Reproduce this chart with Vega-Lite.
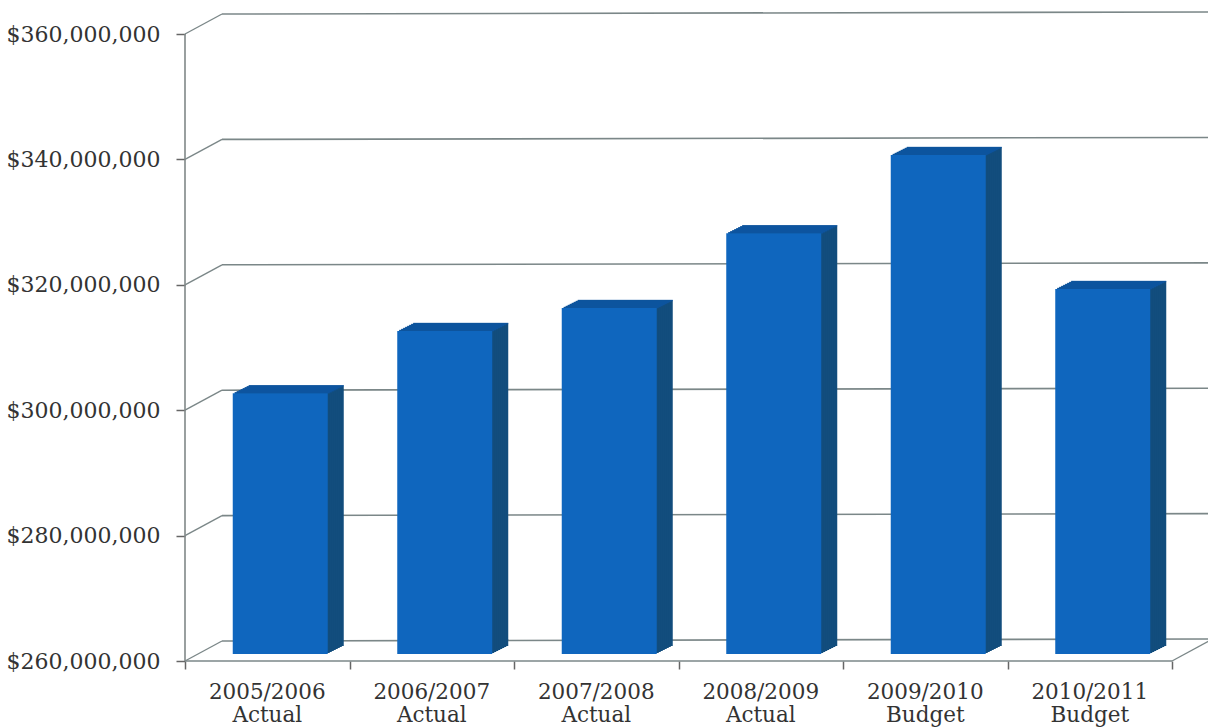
{
  "$schema": "https://vega.github.io/schema/vega-lite/v6.json",
  "autosize": "none",
  "width": 987,
  "height": 649,
  "padding": {"left": 185, "top": 12, "right": 36, "bottom": 67},
  "background": "#ffffff",
  "datasets": {
    "bars": [
      {"period": "2005/2006 Actual", "value": 301600000},
      {"period": "2006/2007 Actual", "value": 311500000},
      {"period": "2007/2008 Actual", "value": 315200000},
      {"period": "2008/2009 Actual", "value": 327100000},
      {"period": "2009/2010 Budget", "value": 339600000},
      {"period": "2010/2011 Budget", "value": 318200000}
    ],
    "levels": [
      {"level": 260000000},
      {"level": 280000000},
      {"level": 300000000},
      {"level": 320000000},
      {"level": 340000000},
      {"level": 360000000}
    ]
  },
  "config": {
    "view": {"stroke": null},
    "axis": {"labelFont": "DejaVu Serif", "labelFontSize": 22, "labelColor": "#333333", "tickColor": "#666666", "tickWidth": 1.5, "grid": false, "domain": false, "title": null}
  },
  "layer": [
    {
      "data": {"name": "levels"},
      "layer": [
        {
          "description": "Back wall gridlines, running very slightly uphill to the right",
          "mark": {"type": "rule", "color": "#7b8788", "strokeWidth": 1.6, "yOffset": -20, "y2Offset": -22, "clip": false},
          "encoding": {
            "x": {"datum": 0.225, "type": "quantitative", "scale": {"domain": [0, 6], "nice": false, "zero": false},
              "axis": {"orient": "bottom", "values": [0, 1, 2, 3, 4, 5, 6], "labels": false, "ticks": true, "tickSize": 8, "title": null}},
            "x2": {"datum": 6.3},
            "y": {"field": "level", "type": "quantitative",
              "scale": {"domain": [260000000, 363510000], "nice": false, "zero": false},
              "axis": {"values": [260000000, 280000000, 300000000, 320000000, 340000000, 360000000], "format": "$,.0f", "tickSize": 9, "labelPadding": 16, "title": null}},
            "y2": {"field": "level"}
          }
        },
        {
          "description": "Side wall connectors from the axis to the back wall",
          "mark": {"type": "rule", "color": "#7b8788", "strokeWidth": 1.4, "y2Offset": -20},
          "encoding": {
            "x": {"datum": 0, "type": "quantitative"},
            "x2": {"datum": 0.225},
            "y": {"field": "level", "type": "quantitative"},
            "y2": {"field": "level"}
          }
        },
        {
          "description": "Front floor edge and its right-hand return",
          "transform": [{"filter": {"field": "level", "equal": 260000000}}],
          "layer": [
            {
              "mark": {"type": "rule", "color": "#7b8788", "strokeWidth": 1.6},
              "encoding": {
                "x": {"datum": 0, "type": "quantitative"},
                "x2": {"datum": 6},
                "y": {"field": "level", "type": "quantitative"}
              }
            },
            {
              "mark": {"type": "rule", "color": "#7b8788", "strokeWidth": 1.4, "y2Offset": -20, "clip": false},
              "encoding": {
                "x": {"datum": 6, "type": "quantitative"},
                "x2": {"datum": 6.225},
                "y": {"field": "level", "type": "quantitative"},
                "y2": {"field": "level"}
              }
            },
            {
              "description": "Vertical value axis line",
              "mark": {"type": "rule", "color": "#808888", "strokeWidth": 1.6},
              "encoding": {
                "x": {"datum": 0, "type": "quantitative"},
                "y": {"datum": 260000000, "type": "quantitative"},
                "y2": {"datum": 360000000}
              }
            }
          ]
        }
      ]
    },
    {
      "data": {"name": "bars"},
      "encoding": {
        "x": {"field": "period", "type": "nominal", "sort": null,
          "scale": {"paddingInner": 0, "paddingOuter": 0},
          "axis": {"orient": "bottom", "labelExpr": "split(datum.label, ' ')", "labelAngle": 0, "ticks": false, "labelPadding": 20, "labelFontSize": 21.5, "labelLineHeight": 23, "labelOverlap": false, "labelBound": false, "labelAlign": "center", "labelBaseline": "top", "title": null}},
        "y": {"field": "value", "type": "quantitative", "scale": {"domain": [260000000, 363510000], "nice": false, "zero": false},
          "axis": {"values": [260000000, 280000000, 300000000, 320000000, 340000000, 360000000], "format": "$,.0f", "tickSize": 9, "labelPadding": 16, "title": null}}
      },
      "layer": [
        {"mark": {"type": "bar", "width": 95, "color": "#124d7d", "xOffset": 29, "yOffset": -15, "y2Offset": -15}, "encoding": {"y2": {"datum": 260000000}}},
        {"mark": {"type": "bar", "width": 95, "color": "#124d7d", "xOffset": 27, "yOffset": -14, "y2Offset": -14}, "encoding": {"y2": {"datum": 260000000}}},
        {"mark": {"type": "bar", "width": 95, "color": "#124d7d", "xOffset": 25, "yOffset": -13, "y2Offset": -13}, "encoding": {"y2": {"datum": 260000000}}},
        {"mark": {"type": "bar", "width": 95, "color": "#124d7d", "xOffset": 23, "yOffset": -12, "y2Offset": -12}, "encoding": {"y2": {"datum": 260000000}}},
        {"mark": {"type": "bar", "width": 95, "color": "#124d7d", "xOffset": 21, "yOffset": -11, "y2Offset": -11}, "encoding": {"y2": {"datum": 260000000}}},
        {"mark": {"type": "bar", "width": 95, "color": "#124d7d", "xOffset": 19, "yOffset": -10, "y2Offset": -10}, "encoding": {"y2": {"datum": 260000000}}},
        {"mark": {"type": "bar", "width": 95, "color": "#124d7d", "xOffset": 17, "yOffset": -9, "y2Offset": -9}, "encoding": {"y2": {"datum": 260000000}}},
        {"mark": {"type": "bar", "width": 95, "color": "#124d7d", "xOffset": 15, "yOffset": -8, "y2Offset": -8}, "encoding": {"y2": {"datum": 260000000}}},
        {"mark": {"type": "tick", "size": 95, "thickness": 1.5, "color": "#0d57a8", "xOffset": 29, "yOffset": -14.5}},
        {"mark": {"type": "tick", "size": 95, "thickness": 1.5, "color": "#0d57a8", "xOffset": 27, "yOffset": -13.5}},
        {"mark": {"type": "tick", "size": 95, "thickness": 1.5, "color": "#0d57a8", "xOffset": 25, "yOffset": -12.5}},
        {"mark": {"type": "tick", "size": 95, "thickness": 1.5, "color": "#0d57a8", "xOffset": 23, "yOffset": -11.5}},
        {"mark": {"type": "tick", "size": 95, "thickness": 1.5, "color": "#0d57a8", "xOffset": 21, "yOffset": -10.5}},
        {"mark": {"type": "tick", "size": 95, "thickness": 1.5, "color": "#0d57a8", "xOffset": 19, "yOffset": -9.5}},
        {"mark": {"type": "tick", "size": 95, "thickness": 1.5, "color": "#0d57a8", "xOffset": 17, "yOffset": -8.5}},
        {"mark": {"type": "tick", "size": 95, "thickness": 1.5, "color": "#0d57a8", "xOffset": 15, "yOffset": -7.5}},
        {"mark": {"type": "bar", "width": 95, "color": "#0f66be", "xOffset": 13, "yOffset": -7, "y2Offset": -7}, "encoding": {"y2": {"datum": 260000000}}}
      ]
    }
  ],
  "resolve": {"scale": {"x": "independent"}, "axis": {"x": "independent"}}
}
